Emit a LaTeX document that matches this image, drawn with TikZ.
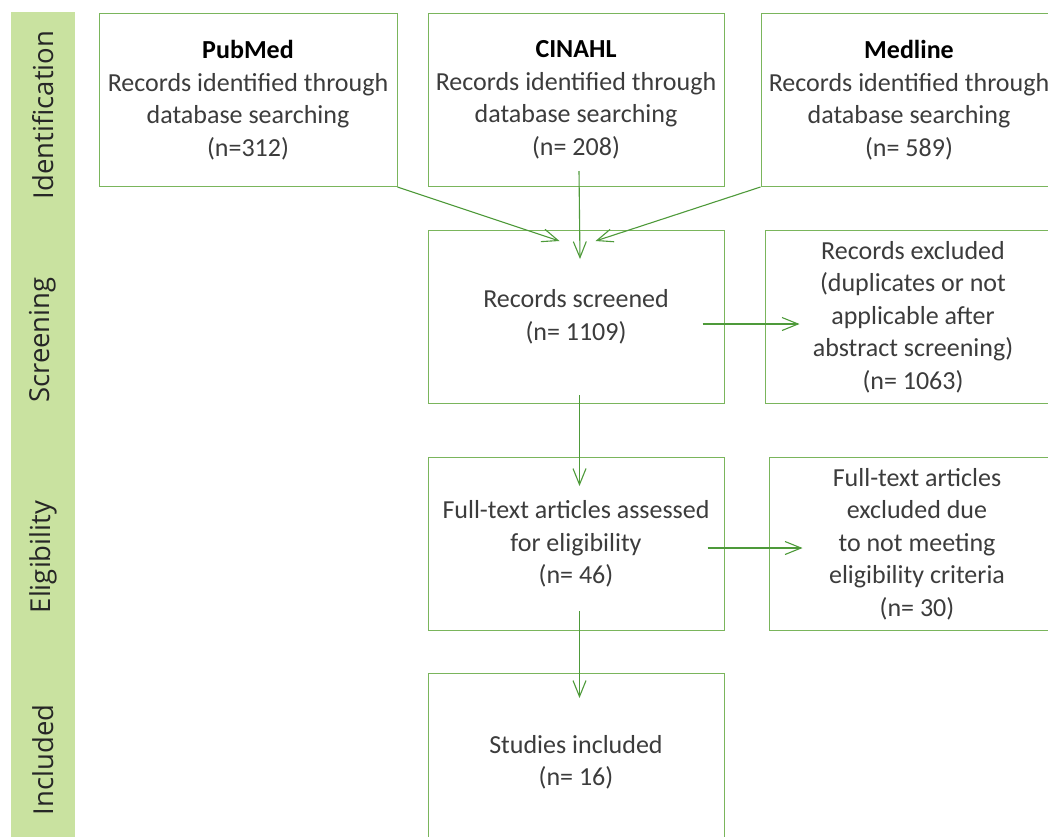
\documentclass[tikz,border=0pt]{standalone}
\usepackage{fontspec}
\setmainfont{Carlito}
\newfontfamily\phasefont{Open Sans}
\usetikzlibrary{positioning,arrows.meta}

\definecolor{boxgreen}{HTML}{7AB55C}
\definecolor{arrowgreen}{HTML}{4E9A3A}
\definecolor{bandgreen}{HTML}{C9E2A0}
\definecolor{txtgray}{HTML}{3C3C3C}

\tikzset{
  stage/.style={draw=boxgreen, line width=1pt, minimum width=296pt, minimum height=173pt,
    inner sep=0pt, align=center, text=txtgray, font=\fontsize{26}{32.5}\selectfont},
  flow/.style={draw=arrowgreen, line width=1.1pt, -{Straight Barb[length=16pt,width=13pt]}},
  phase/.style={rotate=90, text=black!85, font=\phasefont\fontsize{27.5}{30}\selectfont}
}

\begin{document}
\begin{tikzpicture}[x=1pt, y=-1pt]
        \useasboundingbox (0,0) rectangle (1048,836);
        \clip (0,0) rectangle (1048,836);
        \fill[white] (0,0) rectangle (1048,836);

        % phase band
        \fill[bandgreen] (11,12) rectangle (75,840);
        \node[phase] (ident) at (43,115) {Identification};
        \node[phase] (screen) at (43,340) {Screening};
        \node[phase] (elig) at (43,557) {Eligibility};
        \node[phase] (incl) at (43,760) {Included};

        \node[stage, minimum width=298pt] (pubmed) at (248,100) {{\bfseries\color{black} PubMed}\\Records identified through\\database searching\\(n=312)};
        \node[stage, right=30pt of pubmed] (cinahl) {{\bfseries\color{black} CINAHL}\\Records identified through\\database searching\\(n= 208)};
        \node[stage, right=36pt of cinahl] (medline) {{\bfseries\color{black} Medline}\\Records identified through\\database searching\\(n= 589)};
        \node[stage, below=43pt of cinahl] (screened) {Records screened\\(n= 1109)};
        \node[stage, right=40pt of screened] (excluded) {Records excluded\\(duplicates or not\\applicable after\\abstract screening)\\(n= 1063)};
        \node[stage, below=53pt of screened] (fulltext) {Full-text articles assessed\\for eligibility\\(n= 46)};
        \node[stage, right=44pt of fulltext] (ftexcl) {Full-text articles\\excluded due\\to not meeting\\eligibility criteria\\(n= 30)};
        \node[stage, below=42pt of fulltext, minimum height=178pt] (included) {Studies included\\(n= 16)};

        \draw[flow] (pubmed.south east) -- ([xshift=-16.5pt,yshift=-11pt]screened.north);
        \draw[flow] ([xshift=3pt,yshift=16pt]cinahl.south) -- ([xshift=4pt,yshift=-29pt]screened.north);
        \draw[flow] (medline.south west) -- ([xshift=19.5pt,yshift=-11pt]screened.north);
        \draw[flow] ([xshift=-22pt,yshift=-7pt]screened.east) -- ([xshift=35pt,yshift=-7pt]excluded.west);
        \draw[flow] ([xshift=3.5pt,yshift=9pt]screened.south) -- ([xshift=3.5pt,yshift=-29pt]fulltext.north);
        \draw[flow] ([xshift=-17pt,yshift=-4pt]fulltext.east) -- ([xshift=34pt,yshift=-4pt]ftexcl.west);
        \draw[flow] ([xshift=3.5pt,yshift=20pt]fulltext.south) -- ([xshift=3.5pt,yshift=-25pt]included.north);
    \end{tikzpicture}
\end{document}
